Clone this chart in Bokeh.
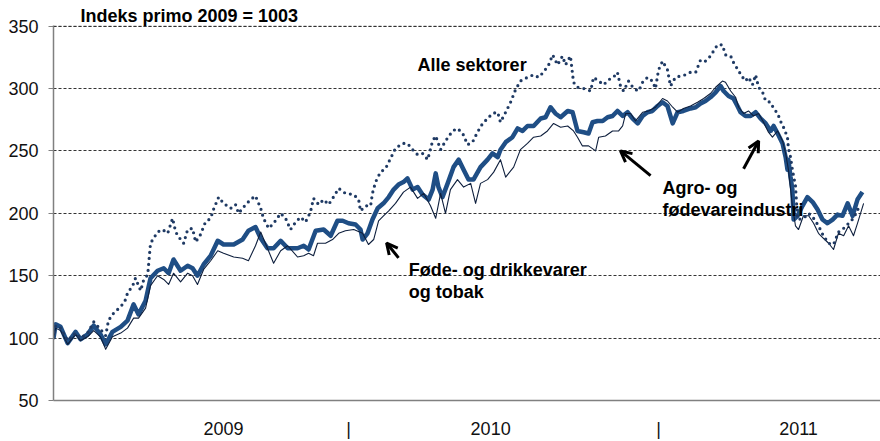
from bokeh.plotting import figure
from bokeh.models import (Range1d, FixedTicker, CustomJSTickFormatter, Label, Arrow, OpenHead, Span)
from bokeh.embed import file_html
from bokeh.resources import INLINE

# ---- data (decimal years, index primo 2009 = 100) ----
agro_x = [2009.029, 2009.036, 2009.052, 2009.075, 2009.101, 2009.117, 2009.140, 2009.160, 2009.182, 2009.199,
          2009.221, 2009.248, 2009.270, 2009.290, 2009.306, 2009.329, 2009.345, 2009.368, 2009.388, 2009.404,
          2009.420, 2009.443, 2009.466, 2009.482, 2009.498, 2009.518, 2009.541, 2009.564, 2009.583, 2009.616,
          2009.645, 2009.664, 2009.687, 2009.704, 2009.726, 2009.746, 2009.769, 2009.792, 2009.824, 2009.844,
          2009.860, 2009.883, 2009.909, 2009.932, 2009.954, 2009.971, 2009.990, 2010.013, 2010.029, 2010.036,
          2010.052, 2010.068, 2010.085, 2010.104, 2010.121, 2010.137, 2010.153, 2010.169, 2010.182, 2010.199,
          2010.215, 2010.231, 2010.251, 2010.264, 2010.274, 2010.283, 2010.296, 2010.313, 2010.332, 2010.349,
          2010.365, 2010.381, 2010.397, 2010.420, 2010.443, 2010.459, 2010.476, 2010.485, 2010.502, 2010.524,
          2010.541, 2010.557, 2010.573, 2010.593, 2010.616, 2010.632, 2010.648, 2010.664, 2010.681, 2010.704,
          2010.720, 2010.736, 2010.756, 2010.772, 2010.785, 2010.801, 2010.818, 2010.834, 2010.850, 2010.866,
          2010.883, 2010.899, 2010.915, 2010.932, 2010.948, 2010.964, 2010.980, 2010.997, 2011.013, 2011.029,
          2011.046, 2011.062, 2011.081, 2011.104, 2011.121, 2011.137, 2011.153, 2011.169, 2011.186, 2011.202,
          2011.212, 2011.228, 2011.244, 2011.257, 2011.267, 2011.283, 2011.300, 2011.316, 2011.332, 2011.349,
          2011.365, 2011.375, 2011.388, 2011.404, 2011.414, 2011.420, 2011.423, 2011.430, 2011.436, 2011.440,
          2011.453, 2011.469, 2011.485, 2011.502, 2011.518, 2011.534, 2011.550, 2011.567, 2011.583, 2011.599,
          2011.616, 2011.632, 2011.648, 2011.664]
agro_y = [100, 111, 109, 96, 105, 99, 103, 110, 103, 95,
          105, 109, 114, 127, 119, 130, 148, 154, 156, 152,
          163, 154, 158, 156, 150, 159, 166, 178, 175, 175,
          179, 186, 189, 180, 172, 172, 178, 172, 172, 174,
          171, 186, 187, 182, 194, 194, 192, 191, 187, 179,
          184, 195, 204, 208, 213, 219, 223, 225, 228, 219,
          221, 215, 211, 219, 232, 221, 213, 224, 237, 243,
          235, 227, 227, 237, 243, 248, 245, 251, 257, 261,
          268, 266, 270, 270, 276, 277, 285, 280, 277, 282,
          281, 266, 265, 264, 273, 274, 274, 277, 278, 282,
          278, 281, 276, 272, 278, 281, 282, 286, 289, 286,
          272, 281, 282, 284, 285, 288, 290, 293, 297, 302,
          298, 294, 292, 286, 281, 278, 278, 281, 276, 272,
          266, 270, 264, 256, 245, 235, 243, 229, 219, 195,
          198, 206, 213, 209, 203, 195, 192, 195, 199, 198,
          208, 198, 211, 217]

fode_x = [2009.029, 2009.036, 2009.052, 2009.075, 2009.101, 2009.117, 2009.140, 2009.160, 2009.182, 2009.199,
          2009.221, 2009.248, 2009.270, 2009.290, 2009.306, 2009.329, 2009.345, 2009.368, 2009.388, 2009.404,
          2009.420, 2009.443, 2009.466, 2009.482, 2009.498, 2009.518, 2009.541, 2009.564, 2009.583, 2009.616,
          2009.645, 2009.664, 2009.687, 2009.704, 2009.726, 2009.746, 2009.769, 2009.792, 2009.824, 2009.844,
          2009.860, 2009.876, 2009.889, 2009.915, 2009.938, 2009.958, 2009.980, 2010.007, 2010.036, 2010.055,
          2010.072, 2010.088, 2010.104, 2010.121, 2010.143, 2010.169, 2010.192, 2010.215, 2010.235, 2010.257,
          2010.274, 2010.290, 2010.306, 2010.322, 2010.345, 2010.365, 2010.388, 2010.404, 2010.420, 2010.443,
          2010.463, 2010.485, 2010.502, 2010.528, 2010.550, 2010.573, 2010.593, 2010.616, 2010.638, 2010.658,
          2010.681, 2010.704, 2010.723, 2010.736, 2010.752, 2010.772, 2010.795, 2010.805, 2010.827, 2010.850,
          2010.870, 2010.883, 2010.893, 2010.909, 2010.925, 2010.948, 2010.967, 2010.990, 2011.013, 2011.029,
          2011.046, 2011.062, 2011.081, 2011.104, 2011.127, 2011.147, 2011.169, 2011.186, 2011.208, 2011.218,
          2011.235, 2011.251, 2011.261, 2011.277, 2011.293, 2011.309, 2011.326, 2011.342, 2011.358, 2011.371,
          2011.388, 2011.404, 2011.414, 2011.423, 2011.436, 2011.446, 2011.456, 2011.472, 2011.489, 2011.505,
          2011.521, 2011.537, 2011.554, 2011.570, 2011.586, 2011.603, 2011.619, 2011.635, 2011.648, 2011.668]
fode_y = [100, 108, 106, 95, 103, 98, 101, 106, 101, 91,
          101, 104, 108, 116, 116, 124, 142, 150, 147, 143,
          152, 145, 152, 150, 143, 155, 162, 170, 168, 165,
          164, 162, 174, 185, 172, 160, 170, 174, 165, 166,
          168, 166, 176, 176, 179, 184, 186, 187, 184, 175,
          179, 194, 198, 202, 208, 217, 221, 212, 216, 206,
          196, 216, 200, 219, 227, 221, 224, 208, 224, 227,
          233, 243, 229, 237, 251, 256, 261, 262, 266, 272,
          269, 270, 266, 261, 254, 254, 250, 261, 262, 266,
          266, 270, 280, 280, 274, 281, 282, 285, 292, 290,
          285, 281, 284, 286, 289, 292, 296, 301, 306, 305,
          298, 293, 285, 280, 282, 278, 280, 273, 265, 261,
          266, 258, 248, 235, 206, 190, 187, 198, 198, 192,
          184, 180, 176, 171, 184, 182, 190, 182, 192, 208]

alle_x = [2009.029, 2009.036, 2009.052, 2009.075, 2009.101, 2009.117, 2009.140, 2009.160, 2009.182, 2009.199,
          2009.208, 2009.221, 2009.238, 2009.254, 2009.264, 2009.270, 2009.287, 2009.296, 2009.313, 2009.322,
          2009.336, 2009.345, 2009.368, 2009.384, 2009.401, 2009.417, 2009.427, 2009.443, 2009.453, 2009.466,
          2009.482, 2009.492, 2009.508, 2009.524, 2009.541, 2009.550, 2009.567, 2009.583, 2009.606, 2009.622,
          2009.632, 2009.655, 2009.671, 2009.687, 2009.704, 2009.713, 2009.730, 2009.746, 2009.769, 2009.785,
          2009.801, 2009.818, 2009.834, 2009.850, 2009.866, 2009.876, 2009.893, 2009.909, 2009.925, 2009.941,
          2009.958, 2009.980, 2010.007, 2010.023, 2010.029, 2010.046, 2010.062, 2010.068, 2010.078, 2010.094,
          2010.111, 2010.127, 2010.143, 2010.166, 2010.182, 2010.199, 2010.215, 2010.231, 2010.248, 2010.264,
          2010.274, 2010.290, 2010.306, 2010.329, 2010.345, 2010.362, 2010.378, 2010.394, 2010.410, 2010.427,
          2010.443, 2010.459, 2010.476, 2010.485, 2010.502, 2010.518, 2010.534, 2010.550, 2010.573, 2010.593,
          2010.609, 2010.625, 2010.642, 2010.655, 2010.671, 2010.687, 2010.697, 2010.713, 2010.723, 2010.736,
          2010.756, 2010.779, 2010.788, 2010.805, 2010.821, 2010.837, 2010.853, 2010.866, 2010.876, 2010.886,
          2010.902, 2010.919, 2010.935, 2010.948, 2010.964, 2010.980, 2010.990, 2011.000, 2011.013, 2011.029,
          2011.039, 2011.055, 2011.072, 2011.088, 2011.104, 2011.121, 2011.137, 2011.153, 2011.169, 2011.179,
          2011.192, 2011.208, 2011.218, 2011.235, 2011.244, 2011.261, 2011.274, 2011.283, 2011.293, 2011.306,
          2011.316, 2011.326, 2011.339, 2011.349, 2011.365, 2011.375, 2011.388, 2011.397, 2011.407, 2011.420,
          2011.423, 2011.430, 2011.436, 2011.446, 2011.453, 2011.472, 2011.489, 2011.505, 2011.521, 2011.537,
          2011.554, 2011.570, 2011.586, 2011.603, 2011.619, 2011.635, 2011.651]
alle_y = [100, 110, 108, 98, 104, 100, 104, 113, 107, 102,
          114, 119, 123, 127, 131, 136, 142, 148, 138, 146,
          151, 176, 185, 187, 184, 196, 185, 179, 176, 187,
          188, 177, 183, 193, 196, 203, 213, 208, 204, 207,
          200, 207, 211, 214, 204, 196, 188, 192, 200, 196,
          187, 193, 197, 193, 201, 212, 207, 211, 207, 213,
          220, 216, 215, 211, 202, 206, 206, 216, 225, 233,
          236, 244, 252, 256, 256, 251, 247, 248, 243, 258,
          262, 251, 258, 266, 268, 264, 255, 257, 265, 272,
          276, 280, 281, 273, 281, 289, 299, 306, 309, 311,
          309, 313, 319, 327, 319, 326, 319, 326, 305, 301,
          300, 298, 309, 306, 303, 307, 309, 313, 302, 298,
          306, 300, 298, 305, 309, 306, 300, 315, 322, 315,
          302, 309, 310, 311, 313, 313, 323, 322, 326, 330,
          335, 335, 327, 326, 321, 314, 309, 306, 309, 303,
          311, 301, 297, 290, 289, 284, 280, 274, 269, 261,
          252, 245, 235, 222, 195, 196, 200, 196, 190, 182,
          176, 175, 185, 188, 192, 196, 204]

y_ticks = [50, 100, 150, 200, 250, 300, 350]
x_tick_pos = [2009.583, 2009.99, 2010.453, 2011.0, 2011.456]
x_tick_labels = ["2009", "|", "2010", "|", "2011"]

FONT = "Liberation Sans"

p = figure(width=880, height=441, output_backend="svg", toolbar_location=None,
           x_range=Range1d(2009.029, 2011.723), y_range=Range1d(50, 350.5),
           min_border_left=53, min_border_right=0, min_border_top=25, min_border_bottom=37,
           title="Indeks primo 2009 = 1003")
p.outline_line_color = None
p.background_fill_color = "white"

# title (top-left, just above the top gridline)
p.title.align = "left"
p.title.offset = 27
p.title.standoff = 0
p.title.text_font = FONT
p.title.text_font_size = "18px"
p.title.text_font_style = "bold"
p.title.text_color = "black"
p.title.text_line_height = 1.0

# axes
p.yaxis.ticker = FixedTicker(ticks=y_ticks)
p.yaxis.axis_line_color = "#808080"
p.yaxis.axis_line_width = 1.5
p.yaxis.major_tick_line_color = "#808080"
p.yaxis.major_tick_out = 5
p.yaxis.major_tick_in = 0
p.yaxis.minor_tick_line_color = None
p.yaxis.major_label_standoff = 10
p.yaxis.major_label_text_font = FONT
p.yaxis.major_label_text_font_size = "18px"
p.yaxis.major_label_text_color = "#111111"

p.xaxis.ticker = FixedTicker(ticks=x_tick_pos)
p.xaxis.formatter = CustomJSTickFormatter(args=dict(labels=x_tick_labels), code="return labels[index];")
p.xaxis.axis_line_color = "#808080"
p.xaxis.axis_line_width = 1.5
p.xaxis.major_tick_line_color = None
p.xaxis.minor_tick_line_color = None
p.xaxis.major_label_standoff = 12
p.xaxis.major_label_text_font = FONT
p.xaxis.major_label_text_font_size = "18px"
p.xaxis.major_label_text_color = "#111111"

# grid
p.xgrid.grid_line_color = None
p.ygrid.ticker = FixedTicker(ticks=y_ticks[1:])
p.ygrid.grid_line_color = "#333333"
p.ygrid.grid_line_width = 1
p.ygrid.grid_line_dash = "3 2"
# top gridline (350) drawn explicitly so it shows at the frame edge
p.add_layout(Span(location=y_ticks[-1], dimension="width", line_color="#333333",
                  line_width=1, line_dash="3 2"))

# series
p.line(agro_x, agro_y, line_color="#1F4E85", line_width=4.5, line_join="round")
p.line(fode_x, fode_y, line_color="#0E1F3D", line_width=1.1, line_join="round")
p.line(alle_x, alle_y, line_color="#1F3A64", line_width=3.2, line_dash="0 6", line_cap="round")

# annotation texts
for (tx, ty, t) in [(2010.215, 319.1, "Alle sektorer"),
                    (2010.186, 154.8, "Føde- og drikkevarer"),
                    (2010.186, 137.3, "og tobak"),
                    (2011.013, 219.9, "Agro- og"),
                    (2011.013, 202.4, "fødevareindustri")]:
    p.add_layout(Label(x=tx, y=ty, text=t, text_font=FONT, text_font_size="18px",
                       text_font_style="bold", text_baseline="middle", text_color="black"))

# arrows
for (x0, y0, x1, y1) in [(2010.153, 164.3, 2010.114, 176.2),
                         (2010.974, 230.2, 2010.876, 250.0),
                         (2011.277, 235.7, 2011.326, 258.0)]:
    p.add_layout(Arrow(x_start=x0, y_start=y0, x_end=x1, y_end=y1, line_width=3, line_color="black",
                       end=OpenHead(size=11, line_width=3, line_color="black")))

open("out.html", "w").write(file_html(p, INLINE))
